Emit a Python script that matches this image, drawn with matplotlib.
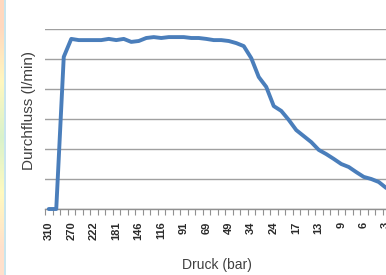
import numpy as np
import matplotlib
matplotlib.use("Agg")
import matplotlib.pyplot as plt

# Durchfluss-Kennlinie, Werte (0..60 Skala, ohne Achsbeschriftung)
durchfluss = [0.0, 0.0, 50.7, 56.7, 56.3, 56.3, 56.3, 56.3, 56.7, 56.3,
              56.7, 55.7, 56.0, 57.0, 57.3, 57.0, 57.3, 57.3, 57.3, 57.0,
              57.0, 56.7, 56.3, 56.3, 56.0, 55.3, 54.3, 50.3, 44.0, 40.7,
              34.3, 32.7, 29.7, 26.3, 24.3, 22.3, 19.7, 18.3, 16.7, 15.0,
              14.0, 12.3, 10.7, 10.0, 9.0, 7.0]
# sichtbare Beschriftungen (jede dritte Kategorie)
druck_labels = ["310", "270", "222", "181", "146", "116", "91", "69",
                "49", "34", "24", "17", "13", "9", "6", "3"]
label_step = 3
y_ticks = [0, 10, 20, 30, 40, 50, 60]

W, H = 386, 275
fig = plt.figure(figsize=(W / 100, H / 100), dpi=100)
fig.patch.set_facecolor("white")

# pastel strip at the left edge of the screenshot
strip = fig.add_axes([0, 0, 4 / W, 1])
grad = np.array([[1.0, 0.85, 0.75], [1.0, 0.97, 0.75], [0.85, 0.95, 0.8],
                 [1.0, 0.98, 0.75], [1.0, 0.88, 0.8]])
strip.imshow(grad[:, None, :], aspect="auto", interpolation="bilinear",
             extent=[0, 1, 0, 1])
strip.axis("off")
fig.add_artist(plt.Line2D([4.5 / W, 4.5 / W], [0, 1], color="#bfe0ea",
                          linewidth=1.2, transform=fig.transFigure))

ax = fig.add_axes([45 / W, 66 / H, 360 / W, 180 / H])
x = np.arange(len(durchfluss))
ax.plot(x, durchfluss, color="#4a7ebb", linewidth=2.8, solid_joinstyle="round",
        solid_capstyle="round", clip_on=False, zorder=3)

ax.set_xlim(-0.5, 47.5)
ax.set_ylim(0, 60)
ax.set_yticks(y_ticks)
ax.set_yticklabels([])
ax.tick_params(axis="y", length=0)
ax.grid(axis="y", color="#a0a0a0", linewidth=1.0)
ax.set_axisbelow(True)

ax.set_xticks(x[::label_step][:len(druck_labels)])
ax.set_xticklabels(druck_labels, rotation=90, fontsize=8, fontweight="bold",
                   family="Liberation Sans", color="#2a2a2a")
ax.set_xticks(np.arange(-0.5, 47.5, 1), minor=True)
ax.tick_params(axis="x", which="major", length=0, pad=9)
ax.tick_params(axis="x", which="minor", length=4, color="#909090", width=0.8)

for s in ["top", "right", "left"]:
    ax.spines[s].set_visible(False)
ax.spines["bottom"].set_color("#909090")
ax.spines["bottom"].set_linewidth(1.0)

fig.text(217 / W, 1 - 265 / H, "Druck (bar)", ha="center", va="center",
         fontsize=10, family="Liberation Sans", color="#404040")
fig.text(29 / W, 1 - 111 / H, "Durchfluss (l/min)", ha="center", va="center",
         rotation=90, fontsize=11, family="Liberation Sans", color="#404040")

fig.savefig("out.png", dpi=100)
